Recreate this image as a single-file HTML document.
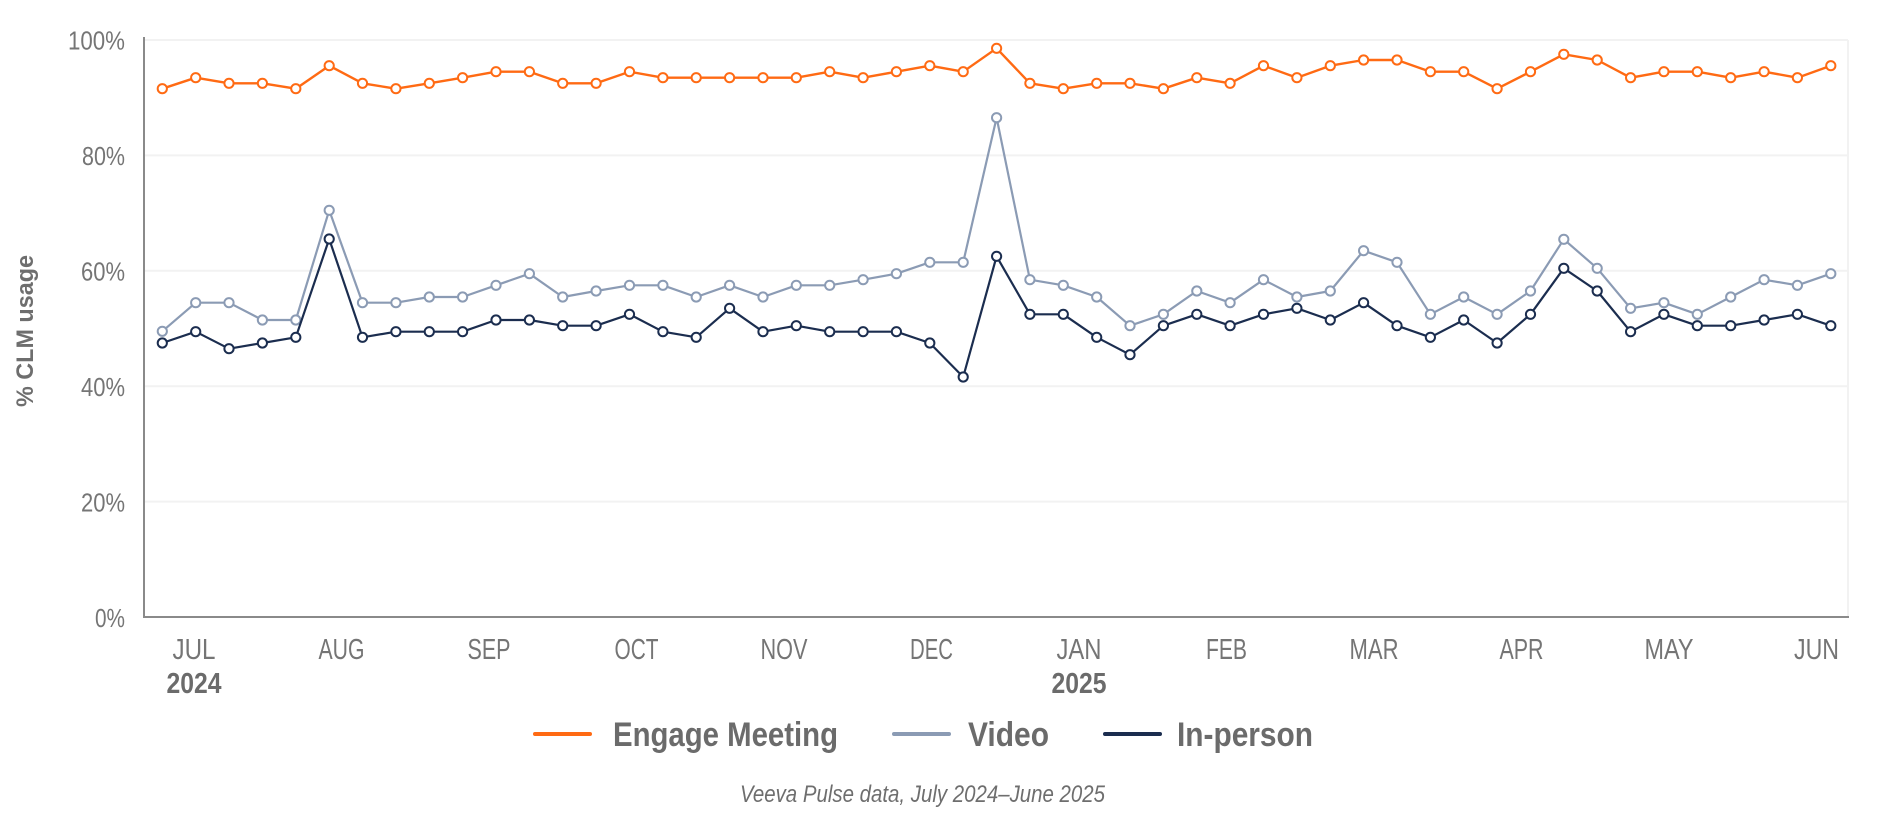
<!DOCTYPE html>
<html>
<head>
<meta charset="utf-8">
<style>
html,body{margin:0;padding:0;background:#fff;}
svg{display:block;}
text{font-family:"Liberation Sans Narrow","Liberation Sans",Arial,sans-serif;}
</style>
</head>
<body>
<svg width="1880" height="822" viewBox="0 0 1880 822" xmlns="http://www.w3.org/2000/svg">
<defs>
<marker id="mo" markerWidth="14" markerHeight="14" refX="7" refY="7" markerUnits="userSpaceOnUse"><circle cx="7" cy="7" r="4.6" fill="#fff" stroke="#FF6A13" stroke-width="2"/></marker>
<marker id="mv" markerWidth="14" markerHeight="14" refX="7" refY="7" markerUnits="userSpaceOnUse"><circle cx="7" cy="7" r="4.6" fill="#fff" stroke="#8B9BB4" stroke-width="2"/></marker>
<marker id="mi" markerWidth="14" markerHeight="14" refX="7" refY="7" markerUnits="userSpaceOnUse"><circle cx="7" cy="7" r="4.6" fill="#fff" stroke="#1B2D4F" stroke-width="2"/></marker>
</defs>

<!-- gridlines -->
<g stroke="#f2f2f2" stroke-width="2" fill="none">
<line x1="145" y1="40" x2="1848" y2="40"/>
<line x1="145" y1="155.4" x2="1848" y2="155.4"/>
<line x1="145" y1="270.8" x2="1848" y2="270.8"/>
<line x1="145" y1="386.2" x2="1848" y2="386.2"/>
<line x1="145" y1="501.6" x2="1848" y2="501.6"/>
<line x1="1848" y1="40" x2="1848" y2="617"/>
</g>

<!-- axes -->
<g stroke="#8a8a8a" stroke-width="2" fill="none">
<line x1="144" y1="37" x2="144" y2="618"/>
<line x1="143" y1="617" x2="1849" y2="617"/>
</g>

<!-- y tick labels -->
<g fill="#757575" font-size="25.5" text-anchor="end">
<text x="125" y="49.5" textLength="57" lengthAdjust="spacingAndGlyphs">100%</text>
<text x="125" y="165" textLength="43" lengthAdjust="spacingAndGlyphs">80%</text>
<text x="125" y="280.5" textLength="44" lengthAdjust="spacingAndGlyphs">60%</text>
<text x="125" y="396" textLength="44" lengthAdjust="spacingAndGlyphs">40%</text>
<text x="125" y="511.5" textLength="44" lengthAdjust="spacingAndGlyphs">20%</text>
<text x="125" y="627" textLength="30" lengthAdjust="spacingAndGlyphs">0%</text>
</g>

<!-- y axis title -->
<text transform="translate(33,331) rotate(-90)" text-anchor="middle" fill="#6e6e6e" font-size="24" font-weight="bold" textLength="152" lengthAdjust="spacingAndGlyphs">% CLM usage</text>

<!-- x month labels -->
<g fill="#757575" font-size="28.5" text-anchor="middle">
<text x="194" y="659" textLength="43" lengthAdjust="spacingAndGlyphs">JUL</text>
<text x="341.5" y="659" textLength="46" lengthAdjust="spacingAndGlyphs">AUG</text>
<text x="489" y="659" textLength="43" lengthAdjust="spacingAndGlyphs">SEP</text>
<text x="636.5" y="659" textLength="44" lengthAdjust="spacingAndGlyphs">OCT</text>
<text x="784" y="659" textLength="47" lengthAdjust="spacingAndGlyphs">NOV</text>
<text x="931.5" y="659" textLength="43" lengthAdjust="spacingAndGlyphs">DEC</text>
<text x="1079" y="659" textLength="45" lengthAdjust="spacingAndGlyphs">JAN</text>
<text x="1226.5" y="659" textLength="41" lengthAdjust="spacingAndGlyphs">FEB</text>
<text x="1374" y="659" textLength="49" lengthAdjust="spacingAndGlyphs">MAR</text>
<text x="1521.5" y="659" textLength="44" lengthAdjust="spacingAndGlyphs">APR</text>
<text x="1669" y="659" textLength="49" lengthAdjust="spacingAndGlyphs">MAY</text>
<text x="1816.5" y="659" textLength="45" lengthAdjust="spacingAndGlyphs">JUN</text>
</g>
<g fill="#6b6b6b" font-size="28.5" font-weight="bold" text-anchor="middle">
<text x="194" y="693" textLength="55" lengthAdjust="spacingAndGlyphs">2024</text>
<text x="1079" y="693" textLength="55" lengthAdjust="spacingAndGlyphs">2025</text>
</g>

<!-- series -->
<polyline fill="none" stroke="#8B9BB4" stroke-width="2.2" stroke-linejoin="round" marker-start="url(#mv)" marker-mid="url(#mv)" marker-end="url(#mv)"
points="162.3,331.3 195.7,302.7 229.0,302.7 262.4,320 295.8,320 329.2,210.3 362.5,302.7 395.9,302.7 429.3,297 462.6,297 496.0,285.3 529.4,273.7 562.7,297 596.1,291 629.5,285.3 662.9,285.3 696.2,297 729.6,285.3 763.0,297 796.3,285.3 829.7,285.3 863.1,279.7 896.4,273.7 929.8,262.3 963.2,262.3 996.6,117.7 1029.9,279.7 1063.3,285.3 1096.7,297 1130.0,325.7 1163.4,314.3 1196.8,291 1230.1,302.7 1263.5,279.7 1296.9,297 1330.3,291 1363.6,250.7 1397.0,262.3 1430.4,314.3 1463.7,297 1497.1,314.3 1530.5,291 1563.8,239.3 1597.2,268.3 1630.6,308.3 1663.9,302.7 1697.3,314.3 1730.7,297 1764.1,279.7 1797.4,285.3 1830.8,273.7"/>

<polyline fill="none" stroke="#1B2D4F" stroke-width="2.2" stroke-linejoin="round" marker-start="url(#mi)" marker-mid="url(#mi)" marker-end="url(#mi)"
points="162.3,343 195.7,331.7 229.0,348.7 262.4,343 295.8,337.3 329.2,239 362.5,337.3 395.9,331.7 429.3,331.7 462.6,331.7 496.0,320 529.4,320 562.7,325.7 596.1,325.7 629.5,314.3 662.9,331.7 696.2,337.3 729.6,308.3 763.0,331.7 796.3,325.7 829.7,331.7 863.1,331.7 896.4,331.7 929.8,343 963.2,377 996.6,256.3 1029.9,314.3 1063.3,314.3 1096.7,337.3 1130.0,354.7 1163.4,325.7 1196.8,314.3 1230.1,325.7 1263.5,314.3 1296.9,308.3 1330.3,320 1363.6,302.7 1397.0,325.7 1430.4,337.3 1463.7,320 1497.1,343 1530.5,314.3 1563.8,268.3 1597.2,291 1630.6,331.7 1663.9,314.3 1697.3,325.7 1730.7,325.7 1764.1,320 1797.4,314.3 1830.8,325.7"/>

<polyline fill="none" stroke="#FF6A13" stroke-width="2.4" stroke-linejoin="round" marker-start="url(#mo)" marker-mid="url(#mo)" marker-end="url(#mo)"
points="162.3,88.7 195.7,77.7 229.0,83.3 262.4,83.3 295.8,88.7 329.2,65.7 362.5,83.3 395.9,88.7 429.3,83.3 462.6,77.7 496.0,71.7 529.4,71.7 562.7,83.3 596.1,83.3 629.5,71.7 662.9,77.7 696.2,77.7 729.6,77.7 763.0,77.7 796.3,77.7 829.7,71.7 863.1,77.7 896.4,71.7 929.8,65.7 963.2,71.7 996.6,48.3 1029.9,83.3 1063.3,88.7 1096.7,83.3 1130.0,83.3 1163.4,88.7 1196.8,77.7 1230.1,83.3 1263.5,65.7 1296.9,77.7 1330.3,65.7 1363.6,60 1397.0,60 1430.4,71.7 1463.7,71.7 1497.1,88.7 1530.5,71.7 1563.8,54.3 1597.2,60 1630.6,77.7 1663.9,71.7 1697.3,71.7 1730.7,77.7 1764.1,71.7 1797.4,77.7 1830.8,65.7"/>

<!-- legend -->
<g stroke-width="4" stroke-linecap="round">
<line x1="535" y1="734" x2="590" y2="734" stroke="#FF6A13"/>
<line x1="894" y1="734" x2="949" y2="734" stroke="#8B9BB4"/>
<line x1="1105" y1="734" x2="1160" y2="734" stroke="#1B2D4F"/>
</g>
<g fill="#6b6b6b" font-size="34" font-weight="bold">
<text x="613" y="746" textLength="225" lengthAdjust="spacingAndGlyphs">Engage Meeting</text>
<text x="968" y="746" textLength="81" lengthAdjust="spacingAndGlyphs">Video</text>
<text x="1177" y="746" textLength="136" lengthAdjust="spacingAndGlyphs">In-person</text>
</g>

<!-- caption -->
<text x="740" y="802" fill="#6e6e6e" font-size="24" font-style="italic" textLength="365" lengthAdjust="spacingAndGlyphs">Veeva Pulse data, July 2024–June 2025</text>
</svg>
</body>
</html>
